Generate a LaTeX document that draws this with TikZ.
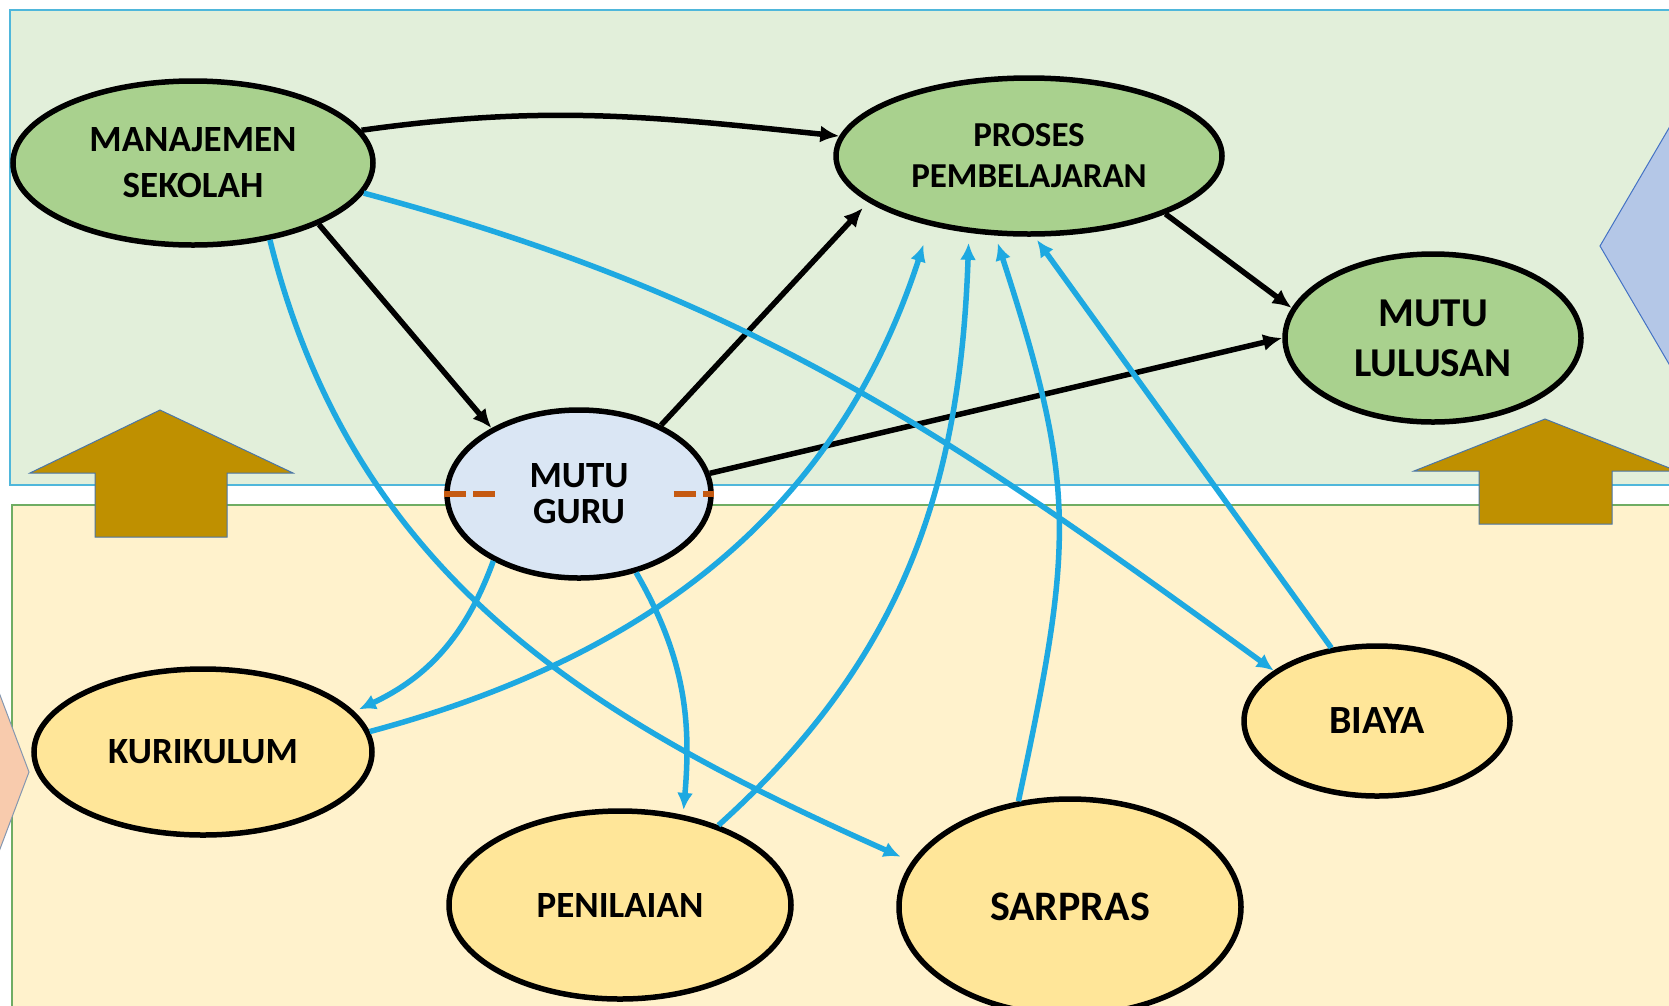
\documentclass[tikz,border=0pt]{standalone}
\usepackage{fontspec}
\setmainfont{Carlito}
\usetikzlibrary{shapes.geometric,arrows.meta}
\definecolor{panelHijau}{HTML}{E2EFDA}
\definecolor{tepiPanel}{HTML}{4FB7DB}
\definecolor{panelKuning}{HTML}{FFF2CC}
\definecolor{tepiKuning}{HTML}{6FAD63}
\definecolor{nodeHijau}{HTML}{A9D18E}
\definecolor{nodeKuning}{HTML}{FFE699}
\definecolor{nodeGuru}{HTML}{DAE6F4}
\definecolor{coklat}{HTML}{BF9000}
\definecolor{tepiCoklat}{HTML}{4A76A8}
\definecolor{biruMuda}{HTML}{B4C7E7}
\definecolor{tepiBiru}{HTML}{4472C4}
\definecolor{persik}{HTML}{F8CBAD}
\definecolor{tepiPersik}{HTML}{8497B0}
\definecolor{garisBiru}{HTML}{1EA9E1}
\definecolor{oranye}{HTML}{C55A11}

\begin{document}
\begin{tikzpicture}[x=1pt,y=1pt,
	simpul/.style={ellipse,draw=black,line width=5.5pt,inner sep=0pt,align=center},
	huruf/.style 2 args={font=\bfseries\fontsize{#1}{#2}\selectfont},
	hijau/.style={simpul,fill=nodeHijau},
	kuning/.style={simpul,fill=nodeKuning},
	panah/.style={-{Latex[length=19pt,width=17pt]},line width=5.5pt,black},
	biru/.style={-{Latex[length=17pt,width=16pt]},line width=5.5pt,garisBiru},
	naik/.style={fill=coklat,draw=tepiCoklat,line width=1pt}]
		\useasboundingbox (0,0) rectangle (1669,-1005);
		\clip (0,0) rectangle (1669,-1005);
		% panel atas dan bawah
		\draw[fill=panelHijau,draw=tepiPanel,line width=2.5pt] (10,-10) rectangle (1700,-485);
		\draw[fill=panelKuning,draw=tepiKuning,line width=2.5pt] (12,-505) rectangle (1700,-1040);
		% panah naik
		\draw[naik] (160,-410) -- (293,-473) -- (227,-473) -- (227,-537) -- (95,-537) -- (95,-473) -- (30,-473) -- cycle;
		\draw[naik] (1545,-419) -- (1677,-471) -- (1612,-471) -- (1612,-524) -- (1479,-524) -- (1479,-471) -- (1414,-471) -- cycle;
		% bentuk di tepi
		\draw[fill=biruMuda,draw=tepiBiru,line width=1pt] (1600,-246) -- (1700,-75) -- (1700,-417) -- cycle;
		\draw[fill=persik,draw=tepiPersik,line width=1pt] (29,-772) -- (-20,-642) -- (-20,-902) -- cycle;
		% simpul
		\node[hijau,huruf={37}{46},minimum width=360pt,minimum height=164pt] (man) at (193,-163) {MANAJEMEN\\SEKOLAH};
		\node[hijau,huruf={35}{41},minimum width=386pt,minimum height=156pt] (pro) at (1029,-156) {PROSES\\PEMBELAJARAN};
		\node[hijau,huruf={41}{50},minimum width=296pt,minimum height=168pt] (lul) at (1433,-338) {MUTU\\LULUSAN};
		\node[simpul,fill=nodeGuru,huruf={37}{36},minimum width=264pt,minimum height=168pt] (guru) at (579,-494) {MUTU\\GURU};
		\node[kuning,huruf={37}{44},minimum width=338pt,minimum height=166pt] (kur) at (203,-752) {KURIKULUM};
		\node[kuning,huruf={37}{44},minimum width=342pt,minimum height=188pt] (pen) at (620,-905) {PENILAIAN};
		\node[kuning,huruf={42}{50},minimum width=342pt,minimum height=216pt] (sar) at (1070,-907) {SARPRAS};
		\node[kuning,huruf={40}{48},minimum width=266pt,minimum height=150pt] (bia) at (1377,-721) {BIAYA};
		% garis putus
		\draw[oranye,line width=6pt,dash pattern=on 22pt off 7pt] (guru.west) -- ++(52,0);
		\draw[oranye,line width=6pt,dash pattern=on 22pt off 7pt] ([xshift=-40pt]guru.east) -- (guru.east);
		% panah hitam
		\draw[panah] (man.11) to[out=8,in=174] (pro.174);
		\draw[panah] (man.-26) -- (guru.143);
		\draw[panah,shorten >=8pt] (guru.40) -- (pro.196);
		\draw[panah] (pro.-23) -- (lul.168);
		\draw[panah] (guru.9) -- (lul.180);
		% panah biru
		\draw[biru] (man.-10) to[out=-15,in=144] (bia.154);
		\draw[biru,shorten >=12pt] (man.-45) to[out=-76,in=156] (sar.164);
		\draw[biru,shorten >=5pt] (guru.218) to[out=-110,in=25] (kur.15);
		\draw[biru,shorten >=5pt] (guru.-54) to[out=-60,in=85] (pen.55);
		\draw[biru,shorten >=20pt] (kur.7) to[out=15,in=-108] (pro.215);
		\draw[biru,shorten >=10pt] (pen.39) to[out=42,in=-92] (pro.232);
		\draw[biru,shorten >=8pt] (sar.116) to[out=78,in=-72,looseness=1.2] (pro.247);
		\draw[biru,shorten >=4pt] (bia.122) -- (pro.274);
	\end{tikzpicture}
\end{document}
